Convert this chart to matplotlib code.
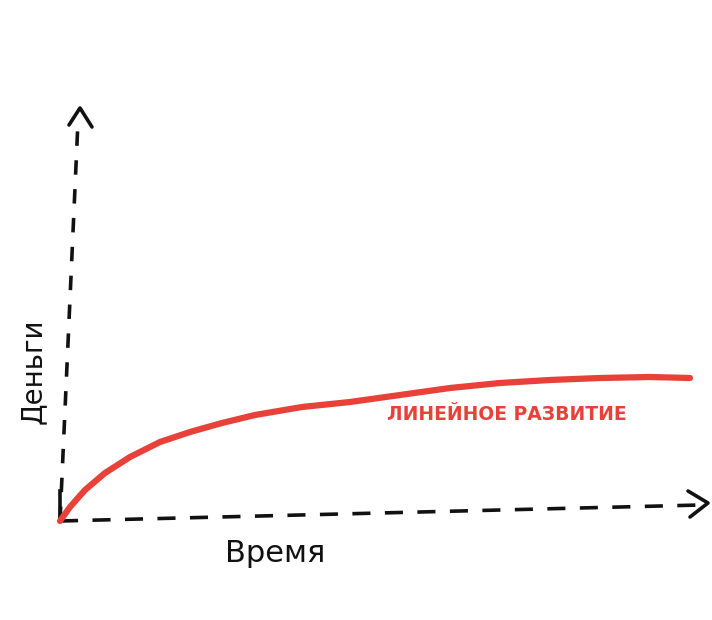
import numpy as np
import matplotlib.pyplot as plt

plt.rcParams["font.family"] = "DejaVu Sans"

# curve: time vs money (units measured from the origin of the sketch)
time = [0, 10, 25, 45, 70, 100, 130, 162, 195, 242, 290, 340, 390, 440, 490, 540, 590, 630]
money = [0, 14, 31, 48, 64, 79, 89, 98, 106, 114, 119, 126, 133, 138, 141, 143, 144, 143]

x_label = "Время"
y_label = "Деньги"
curve_label = "ЛИНЕЙНОЕ РАЗВИТИЕ"

# hand-drawn axes end points
x_axis_end = (640, 16)
y_axis_end = (18, 400)

fig = plt.figure(figsize=(7.12, 6.2), dpi=100)
ax = fig.add_axes([0, 0, 1, 1])
ax.set_xlim(-60, 652)
ax.set_ylim(-99, 521)
ax.axis('off')

# dashed axes
ax.plot([0, x_axis_end[0]], [0, x_axis_end[1]], color='#111111', lw=2.6,
        ls=(0, (5, 4)), solid_capstyle='round')
ax.plot([0, y_axis_end[0]], [0, y_axis_end[1]], color='#111111', lw=2.6,
        ls=(0, (4, 4)), solid_capstyle='round')
# arrow heads
ax.plot([x_axis_end[0] - 12, x_axis_end[0] + 8, x_axis_end[0] - 10],
        [x_axis_end[1] + 14, x_axis_end[1] + 2, x_axis_end[1] - 12],
        color='#111111', lw=2.6, solid_capstyle='round')
ax.plot([y_axis_end[0] - 9, y_axis_end[0] + 2, y_axis_end[0] + 14],
        [y_axis_end[1] - 4, y_axis_end[1] + 13, y_axis_end[1] - 6],
        color='#111111', lw=2.6, solid_capstyle='round')
# small stroke at the origin
ax.plot([0, 0], [0, 30], color='#111111', lw=2.6)

ax.plot(time, money, color='#e8413a', lw=4.5, solid_capstyle='round',
        solid_joinstyle='round')

ax.text(447, 106, curve_label, color='#e8413a', fontsize=13.5,
        fontweight='bold', ha='center', va='center')
ax.text(215, -33, x_label, color='#111111', fontsize=22,
        ha='center', va='center')
ax.text(-27, 150, y_label, color='#111111', fontsize=20,
        ha='center', va='center', rotation=90)

plt.savefig('out.png', dpi=100)
